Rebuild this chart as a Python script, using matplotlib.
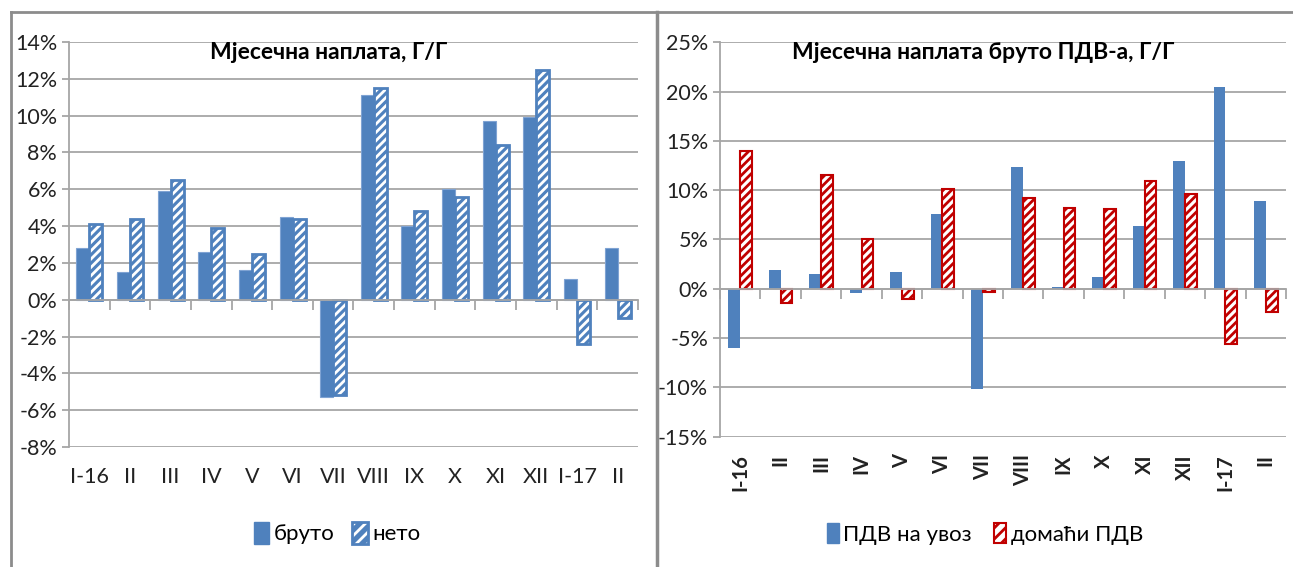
import matplotlib.pyplot as plt
import numpy as np
from matplotlib.lines import Line2D
from matplotlib.patches import Patch
from matplotlib.ticker import FuncFormatter, FixedLocator
import matplotlib.transforms as mtransforms

plt.rcParams['font.family'] = ['Lato', 'DejaVu Sans']
plt.rcParams['hatch.linewidth'] = 2.0

# data (percent)
months = ['I-16', 'II', 'III', 'IV', 'V', 'VI', 'VII', 'VIII', 'IX', 'X', 'XI', 'XII', 'I-17', 'II']
bruto = [2.8, 1.5, 5.9, 2.6, 1.6, 4.5, -5.3, 11.1, 4.0, 6.0, 9.7, 9.9, 1.1, 2.8]
neto = [4.1, 4.4, 6.5, 3.9, 2.5, 4.4, -5.2, 11.5, 4.8, 5.6, 8.4, 12.5, -2.4, -1.0]
pdv_uvoz = [-6.0, 1.9, 1.5, -0.4, 1.7, 7.6, -10.2, 12.4, 0.2, 1.2, 6.4, 13.0, 20.5, 8.9]
pdv_domaci = [14.0, -1.4, 11.5, 5.0, -1.0, 10.1, -0.3, 9.2, 8.2, 8.1, 10.9, 9.6, -5.6, -2.4]

blue = '#4F81BD'
red = '#C00000'
grid = '#A6A6A6'
txt = '#222222'

W, H = 1293, 567
fig = plt.figure(figsize=(W / 100, H / 100), dpi=100)

def box(x0, y0, x1, y1):
    return [x0 / W, 1 - y1 / H, (x1 - x0) / W, (y1 - y0) / H]

ax1 = fig.add_axes(box(69, 42, 638, 447))
ax2 = fig.add_axes(box(720, 42.3, 1286, 436.7))

x = np.arange(len(months))


def style(ax, lo, hi, step):
    ax.set_xlim(-0.5, len(months) - 0.5)
    ax.set_ylim(lo, hi)
    ax.set_yticks(np.arange(lo, hi + 0.1, step))
    ax.yaxis.set_major_formatter(FuncFormatter(lambda v, p: f'{v:.0f}%'))
    ax.yaxis.grid(True, color=grid, lw=1.3)
    ax.set_axisbelow(True)
    for s in ['top', 'right']:
        ax.spines[s].set_visible(False)
    ax.spines['left'].set_color(grid)
    ax.spines['left'].set_linewidth(1.3)
    ax.spines['bottom'].set_position(('data', 0))
    ax.spines['bottom'].set_color(grid)
    ax.spines['bottom'].set_linewidth(1.3)
    ax.xaxis.set_major_locator(FixedLocator(np.arange(-0.5, len(months), 1.0)))
    ax.set_xticklabels([])
    ax.tick_params(axis='x', length=7, color=grid, width=1.3)
    ax.tick_params(axis='y', length=5, color=grid, width=1.3, labelsize=15.5, labelcolor=txt)
    ax.patch.set_alpha(0)


# left chart
style(ax1, -8, 14, 2)
bw = 0.32
ax1.bar(x - bw / 2, bruto, bw, color=blue, edgecolor='#7FA3D3', lw=0.8)
ax1.bar(x + bw / 2, neto, bw, color=blue, edgecolor='white', hatch='////', lw=0)
ax1.bar(x + bw / 2, neto, bw, fill=False, edgecolor=blue, lw=2)
trans1 = mtransforms.blended_transform_factory(ax1.transData, ax1.transAxes)
for i, m in enumerate(months):
    ax1.text(i, -0.075, m, transform=trans1, ha='center', va='center', fontsize=15.5, color=txt)
ax1.text(0.457, 0.973, 'Мјесечна наплата, Г/Г', transform=ax1.transAxes, ha='center', va='center',
         fontsize=16.5, fontweight='bold', color='black')
h_bruto = Patch(facecolor=blue, edgecolor=blue)
h_neto = (Patch(facecolor=blue, edgecolor='white', hatch='///', lw=0), Patch(fill=False, edgecolor=blue, lw=2))
fig.legend([h_bruto, h_neto], ['бруто', 'нето'], loc='center', bbox_to_anchor=(337 / W, 1 - 533 / H),
           ncol=2, frameon=False, fontsize=16, handlelength=0.7, handleheight=1.2,
           handletextpad=0.2, columnspacing=0.8)

# right chart
style(ax2, -15, 25, 5)
bw2 = 0.29
ax2.bar(x - bw2 / 2, pdv_uvoz, bw2, color=blue, lw=0)
ax2.bar(x + bw2 / 2, pdv_domaci, bw2, facecolor='white', edgecolor=red, hatch='////', lw=1.5)
trans2 = mtransforms.blended_transform_factory(ax2.transData, ax2.transAxes)
for i, m in enumerate(months):
    ax2.text(i, -0.045, m, transform=trans2, ha='center', va='top', rotation=90,
             fontsize=14.5, fontweight='bold', color=txt)
ax2.text(0.465, 0.973, 'Мјесечна наплата бруто ПДВ-а, Г/Г', transform=ax2.transAxes, ha='center',
         va='center', fontsize=16.5, fontweight='bold', color='black')
h_uvoz = Patch(facecolor=blue, edgecolor=blue)
h_dom = Patch(facecolor='white', edgecolor=red, hatch='///', lw=1.5)
fig.legend([h_uvoz, h_dom], ['ПДВ на увоз', 'домаћи ПДВ'], loc='center', bbox_to_anchor=(985 / W, 1 - 534 / H),
           ncol=2, frameon=False, fontsize=16, handlelength=0.55, handleheight=1.0,
           handletextpad=0.2, columnspacing=1.0)

# panel borders
border = '#8C8C8C'
fig.add_artist(Line2D([11 / W, 11 / W], [0, 1 - 12 / H], color=border, lw=2))
fig.add_artist(Line2D([11 / W, 1], [1 - 12 / H, 1 - 12 / H], color=border, lw=2))
fig.add_artist(Line2D([657 / W, 657 / W], [0, 1 - 12 / H], color=border, lw=2.5))

fig.savefig('out.png', dpi=100)
